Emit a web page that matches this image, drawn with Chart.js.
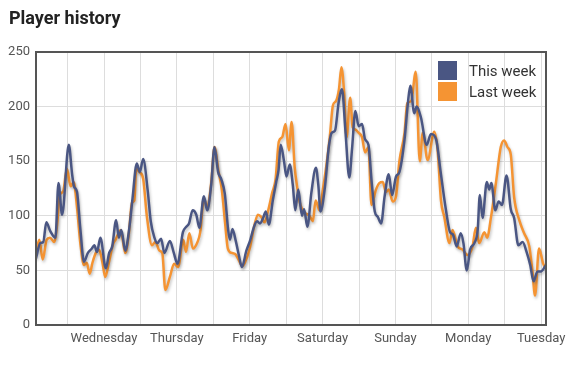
<!DOCTYPE html>
<html lang="en">
  <head>
    <meta charset="UTF-8" />
    <title>Player history</title>
    <script src="https://cdn.jsdelivr.net/npm/chart.js"></script>
    <style>
      * {
        margin: 0;
        padding: 0;
        box-sizing: border-box;
      }
      body {
        background: #fff;
        font-family: Roboto, Arial, sans-serif;
        width: 578px;
        height: 365px;
        position: relative;
        overflow: hidden;
      }
      h2 {
        position: absolute;
        left: 9px;
        top: 7px;
        font-size: 18px;
        font-weight: bold;
        color: #222;
      }
      canvas {
        position: absolute;
        left: 0;
        top: 0;
      }
    </style>
  </head>
  <body>
    <canvas id="history" width="578" height="365"></canvas>
    <h2>Player history</h2>

    <script>
      // hours relative to Wednesday 00:00
      const dayLabels = ["Wednesday", "Thursday", "Friday", "Saturday", "Sunday", "Monday", "Tuesday"];
      const gridHours = [-12, 0, 12, 24, 36, 48, 60, 72, 84, 96, 108, 120, 132, 144];
      const yTicks = [0, 50, 100, 150, 200, 250];

      const thisWeekHours = [
        -22.4, -21.0, -20.0, -19.0, -17.7, -16.0, -15.0, -13.8, -11.6, -10.5, -9.9, -8.9, -7.8, -6.6, -5.3, -4.0,
        -3.2, -2.3, -1.2, 0.6, 1.7, 2.7, 4.0, 4.9, 5.7, 7.0, 8.3, 9.4, 10.8, 11.8, 12.9, 14.4, 15.4, 16.5, 17.6,
        18.8, 19.9, 21.7, 23.0, 24.2, 26.0, 27.1, 28.0, 29.2, 30.4, 31.4, 32.9, 34.0, 35.3, 36.4, 37.6, 38.7, 39.8,
        40.9, 41.5, 42.3, 43.4, 44.5, 45.4, 46.9, 48.2, 49.3, 50.4, 51.4, 52.4, 53.3, 54.3, 55.6, 56.8, 57.5, 58.2,
        59.3, 60.1, 61.2, 62.2, 63.0, 64.0, 65.2, 65.9, 67.0, 68.3, 69.8, 70.6, 71.3, 72.8, 74.0, 75.0, 76.1, 77.3,
        78.4, 79.5, 80.8, 81.7, 82.8, 83.9, 85.0, 86.0, 87.1, 88.2, 89.2, 90.2, 91.3, 92.4, 93.8, 94.9, 96.2, 97.3,
        99.0, 100.1, 100.9, 102.2, 103.0, 104.4, 106.3, 107.7, 109.4, 110.9, 112.6, 114.0, 114.9, 116.2, 117.5,
        118.4, 119.5, 120.6, 122.0, 123.1, 123.8, 124.7, 126.1, 126.9, 127.6, 128.9, 130.0, 131.1, 132.6, 134.0,
        135.1, 136.5, 137.9, 139.2, 140.4, 141.5, 142.8, 143.9, 145.6
      ];
      const thisWeekValues = [
        61, 75, 76, 94, 86, 80, 130, 101, 165, 138, 127, 122, 88, 58, 66, 70,
        73, 67, 80, 52, 66, 72, 96, 80, 87, 68, 88, 116, 148, 140, 152, 123, 95, 81, 75,
        79, 66, 77, 66, 56, 85, 90, 93, 105, 101, 89, 118, 105, 128, 163, 140, 133, 120,
        87, 78, 88, 77, 63, 53, 68, 78, 89, 95, 93, 98, 104, 92, 114, 132, 142, 165,
        150, 136, 147, 128, 105, 124, 100, 106, 90, 121, 144, 128, 104, 127, 162, 176, 178, 204,
        216, 179, 135, 161, 196, 182, 184, 170, 165, 130, 104, 99, 93, 117, 138, 119, 136, 140,
        170, 203, 219, 194, 200, 190, 165, 175, 170, 140, 106, 85, 83, 72, 84,
        75, 50, 69, 75, 87, 119, 98, 131, 124, 130, 105, 113, 110, 137, 106,
        98, 73, 76, 67, 55, 40, 49, 49, 55
      ];

      const lastWeekHours = [
        -22.4, -21.3, -20.2, -18.9, -17.8, -16.4, -15.4, -14.6, -13.5, -12.2, -11.0, -10.0, -8.9, -7.8, -6.6, -5.7,
        -4.7, -3.8, -2.7, -1.6, -0.5, 0.4, 1.6, 3.0, 3.8, 5.5, 7.0, 8.2, 9.2, 10.0, 10.6, 11.7, 12.9, 14.1, 15.8,
        16.9, 18.3, 19.2, 20.2, 21.7, 23.1, 24.4, 26.1, 27.0, 28.1, 29.3, 30.8, 31.7, 32.9, 34.0, 35.3, 36.4, 37.7,
        38.8, 39.9, 40.8, 42.1, 43.2, 44.3, 45.6, 46.4, 48.0, 49.6, 50.7, 51.8, 52.9, 54.0, 55.4, 56.5, 57.6, 58.7,
        59.8, 60.9, 61.8, 62.8, 63.6, 64.7, 66.1, 67.7, 68.8, 69.7, 71.0, 72.1, 73.2, 74.4, 75.4, 76.4, 77.4, 78.2,
        79.1, 79.9, 81.1, 81.9, 82.8, 83.9, 85.0, 86.0, 87.1, 88.1, 89.6, 90.7, 91.8, 92.9, 93.8, 95.1, 96.2, 97.3,
        99.0, 99.9, 101.2, 102.7, 104.0, 105.0, 106.6, 108.8, 109.9, 111.0, 112.1, 113.8, 114.8, 116.5, 118.1,
        119.8, 121.4, 122.5, 123.6, 125.3, 126.2, 127.5, 129.1, 130.7, 131.8, 132.9, 134.0, 135.1, 136.8, 138.4,
        140.1, 141.1, 142.0, 143.3, 144.7, 145.6
      ];
      const lastWeekValues = [
        66, 78, 60, 78, 80, 76, 93, 119, 122, 143, 127, 131, 108, 75, 55, 57,
        47, 57, 66, 69, 57, 44, 57, 74, 78, 87, 66, 84, 112, 114, 143, 140, 134, 100, 73,
        76, 68, 66, 32, 44, 56, 53, 78, 67, 84, 70, 76, 85, 116, 107, 130, 163, 141,
        124, 93, 70, 66, 65, 60, 54, 57, 70, 92, 101, 99, 94, 104, 121, 133, 168, 172,
        184, 160, 186, 145, 127, 110, 103, 100, 95, 114, 105, 124, 145, 173, 201, 205, 216, 236,
        213, 172, 208, 181, 179, 176, 172, 158, 163, 110, 124, 130, 131, 122, 124, 113, 118, 150,
        176, 203, 205, 232, 150, 176, 151, 177, 160, 114, 99, 75, 87, 72, 69,
        64, 72, 89, 75, 85, 80, 99, 130, 163, 169, 163, 156, 117, 96, 84,
        72, 50, 27, 70, 56, 52
      ];

      const toPoints = (xs, ys) => xs.map((x, i) => ({ x: x, y: ys[i] }));

      Chart.defaults.font.family = "Roboto";

      const lineShadow = {
        id: "lineShadow",
        beforeDatasetDraw(chart) {
          const ctx = chart.ctx;
          ctx.save();
          ctx.shadowColor = "rgba(0,0,0,0.25)";
          ctx.shadowBlur = 3;
          ctx.shadowOffsetX = 1;
          ctx.shadowOffsetY = 2;
        },
        afterDatasetDraw(chart) {
          chart.ctx.restore();
        },
      };

      const frameAndLegend = {
        id: "frameAndLegend",
        afterDraw(chart) {
          const ctx = chart.ctx;
          const a = chart.chartArea;
          ctx.save();
          ctx.strokeStyle = "#555";
          ctx.lineWidth = 2;
          ctx.strokeRect(a.left, a.top, a.right - a.left, a.bottom - a.top);

          // legend inside the plot, top right
          ctx.font = "15px Roboto";
          ctx.textBaseline = "alphabetic";
          chart.data.datasets.forEach((ds, i) => {
            const bx = a.right - 108;
            const by = a.top + 9 + i * 21;
            ctx.fillStyle = ds.borderColor;
            ctx.fillRect(bx, by, 19, 19);
            ctx.fillStyle = "#333";
            ctx.fillText(ds.label, bx + 31, by + 15);
          });
          ctx.restore();
        },
      };

      new Chart(document.getElementById("history"), {
        type: "line",
        data: {
          datasets: [
            {
              label: "This week",
              data: toPoints(thisWeekHours, thisWeekValues),
              borderColor: "#4a5683",
              borderWidth: 2.5,
              pointRadius: 0,
              cubicInterpolationMode: "monotone",
            },
            {
              label: "Last week",
              data: toPoints(lastWeekHours, lastWeekValues),
              borderColor: "#f59433",
              borderWidth: 2.5,
              pointRadius: 0,
              cubicInterpolationMode: "monotone",
            },
          ],
        },
        options: {
          responsive: false,
          animation: false,
          layout: { padding: { top: 52, right: 32, left: 0, bottom: 0 } },
          plugins: {
            legend: { display: false },
            tooltip: { enabled: false },
          },
          scales: {
            x: {
              type: "linear",
              min: -22.4,
              max: 145.6,
              afterBuildTicks: (s) => {
                s.ticks = gridHours.map((v) => ({ value: v }));
              },
              afterFit: (s) => { s.height = 40; },
              border: { display: false },
              grid: { color: "#ddd", drawTicks: false },
              ticks: {
                autoSkip: false,
                maxRotation: 0,
                padding: 6,
                color: "#555",
                font: { size: 13 },
                callback: (v) => (v % 24 === 0 ? dayLabels[v / 24] : ""),
              },
            },
            y: {
              min: yTicks[0],
              max: yTicks[yTicks.length - 1],
              afterBuildTicks: (s) => {
                s.ticks = yTicks.map((v) => ({ value: v }));
              },
              afterFit: (s) => { s.width = 36; },
              border: { display: false },
              grid: { color: "#ddd", drawTicks: false },
              ticks: {
                padding: 6,
                color: "#555",
                font: { size: 13 },
              },
            },
          },
        },
        plugins: [lineShadow, frameAndLegend],
      });
    </script>
  </body>
</html>
